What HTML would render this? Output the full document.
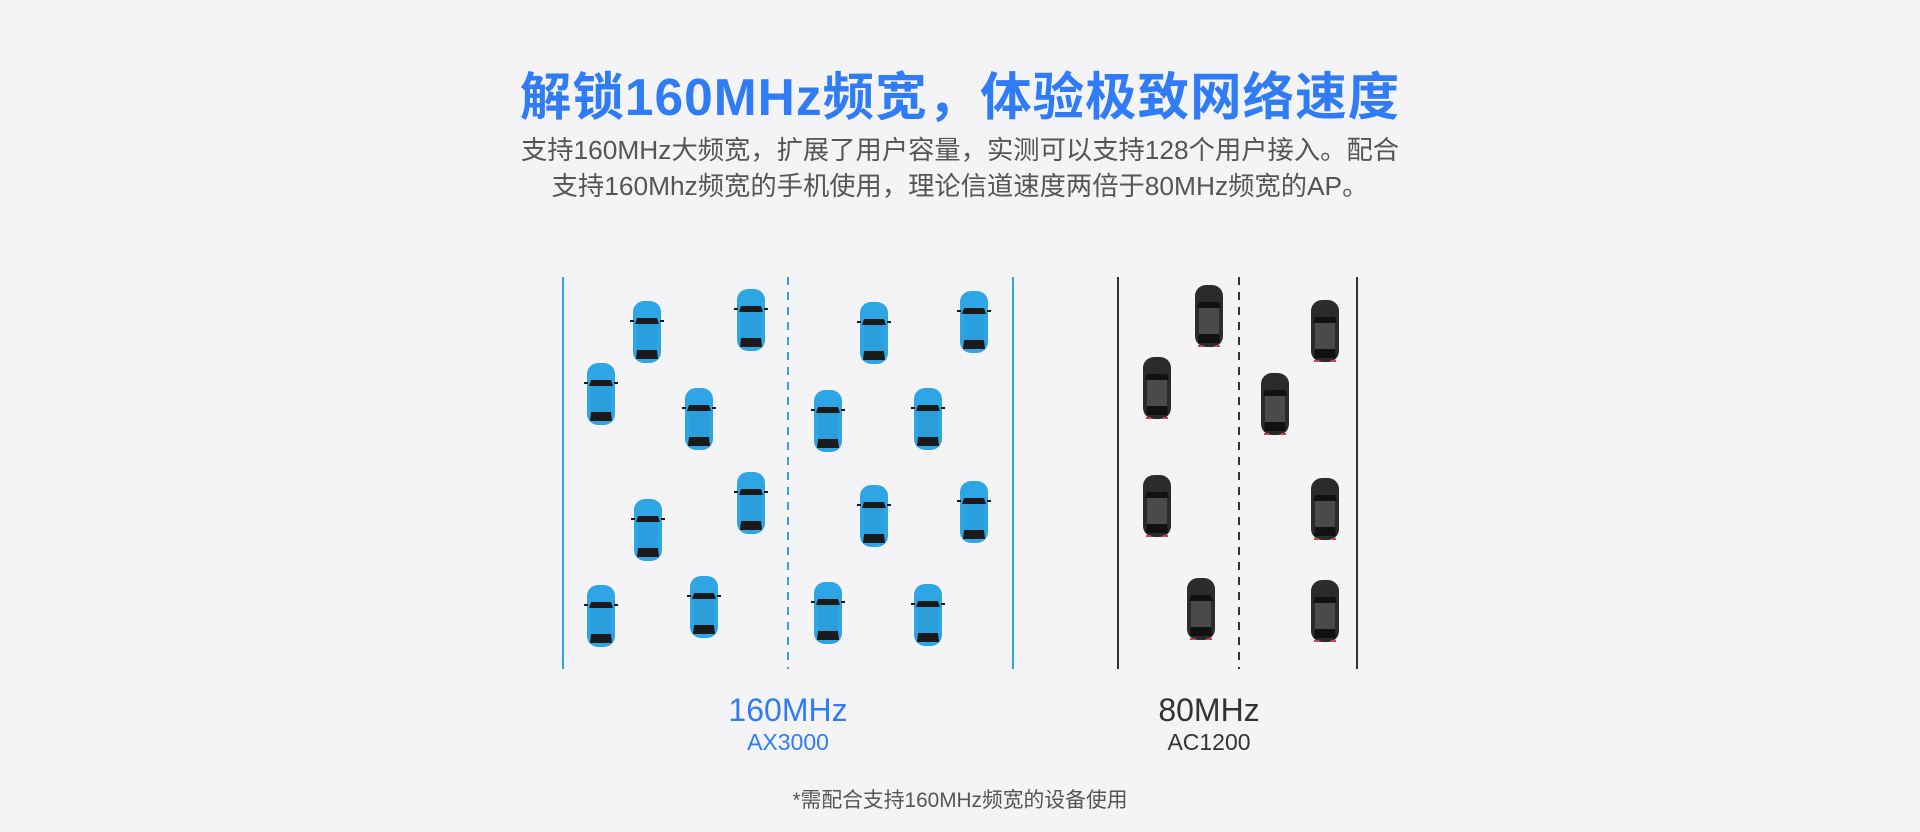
<!DOCTYPE html>
<html><head><meta charset="utf-8"><style>
body{margin:0;background:#f4f4f7;width:1920px;height:832px;overflow:hidden;position:relative;font-family:"Liberation Sans","Noto Sans CJK SC",sans-serif}
.t{position:absolute;left:0;width:1920px;text-align:center}
</style></head><body>
<div class="t" style="top:55px;font-size:51.5px;font-weight:bold;color:#2f7cf6;letter-spacing:1px">解锁160MHz频宽，体验极致网络速度</div>
<div class="t" style="top:132px;font-size:26.3px;color:#555;line-height:36px">支持160MHz大频宽，扩展了用户容量，实测可以支持128个用户接入。配合<br>支持160Mhz频宽的手机使用，理论信道速度两倍于80MHz频宽的AP。</div>
<svg style="position:absolute;left:0;top:0" width="1920" height="832">
<defs>
<g id="cb">
<rect x="-14" y="-31" width="28" height="62" rx="11" fill="#2ea6e6"/>
<path d="M-12 -8 L-10 -14 L10 -14 L12 -8 Z" fill="#1a1a1a"/>
<rect x="-10" y="-8" width="20" height="26" fill="#2b9fdd"/>
<path d="M-10 18 L10 18 L11 27 L-11 27 Z" fill="#1a1a1a"/>
<rect x="-17" y="-12" width="4" height="2" fill="#1a1a1a"/><rect x="13" y="-12" width="4" height="2" fill="#1a1a1a"/>
</g>
<g id="ck">
<rect x="-14" y="-31" width="28" height="62" rx="11" fill="#2b2b2b"/>
<path d="M-12 -8 L-10 -14 L10 -14 L12 -8 Z" fill="#111"/>
<rect x="-10" y="-8" width="20" height="26" fill="#4a4a4a"/>
<path d="M-10 18 L10 18 L11 27 L-11 27 Z" fill="#111"/>
<rect x="-11" y="29" width="5" height="2" fill="#c44"/><rect x="6" y="29" width="5" height="2" fill="#c44"/>
</g>
</defs>
<g stroke-width="2">
<line x1="563" y1="277" x2="563" y2="669" stroke="#2ea6e6"/>
<line x1="1013" y1="277" x2="1013" y2="669" stroke="#2ea6e6"/>
<line x1="788" y1="277" x2="788" y2="669" stroke="#2ea6e6" stroke-dasharray="8 7"/>
<line x1="1118" y1="277" x2="1118" y2="669" stroke="#333"/>
<line x1="1357" y1="277" x2="1357" y2="669" stroke="#333"/>
<line x1="1239" y1="277" x2="1239" y2="669" stroke="#333" stroke-dasharray="8 7"/>
</g>
<use href="#cb" x="647" y="332"/><use href="#cb" x="751" y="320"/><use href="#cb" x="601" y="394"/><use href="#cb" x="699" y="419"/>
<use href="#cb" x="648" y="530"/><use href="#cb" x="751" y="503"/><use href="#cb" x="601" y="616"/><use href="#cb" x="704" y="607"/>
<use href="#cb" x="874" y="333"/><use href="#cb" x="974" y="322"/><use href="#cb" x="828" y="421"/><use href="#cb" x="928" y="419"/>
<use href="#cb" x="874" y="516"/><use href="#cb" x="974" y="512"/><use href="#cb" x="828" y="613"/><use href="#cb" x="928" y="615"/>
<use href="#ck" x="1209" y="316"/><use href="#ck" x="1325" y="331"/><use href="#ck" x="1157" y="388"/><use href="#ck" x="1275" y="404"/>
<use href="#ck" x="1157" y="506"/><use href="#ck" x="1325" y="509"/><use href="#ck" x="1201" y="609"/><use href="#ck" x="1325" y="611"/>
</svg>
<div style="position:absolute;left:688px;width:200px;text-align:center;top:692px;font-size:32px;color:#2f7cf6">160MHz</div>
<div style="position:absolute;left:688px;width:200px;text-align:center;top:729px;font-size:23px;color:#2f7cf6">AX3000</div>
<div style="position:absolute;left:1109px;width:200px;text-align:center;top:692px;font-size:32px;color:#333">80MHz</div>
<div style="position:absolute;left:1109px;width:200px;text-align:center;top:729px;font-size:23px;color:#333">AC1200</div>
<div class="t" style="top:783px;font-size:20.8px;color:#555">*需配合支持160MHz频宽的设备使用</div>
</body></html>
